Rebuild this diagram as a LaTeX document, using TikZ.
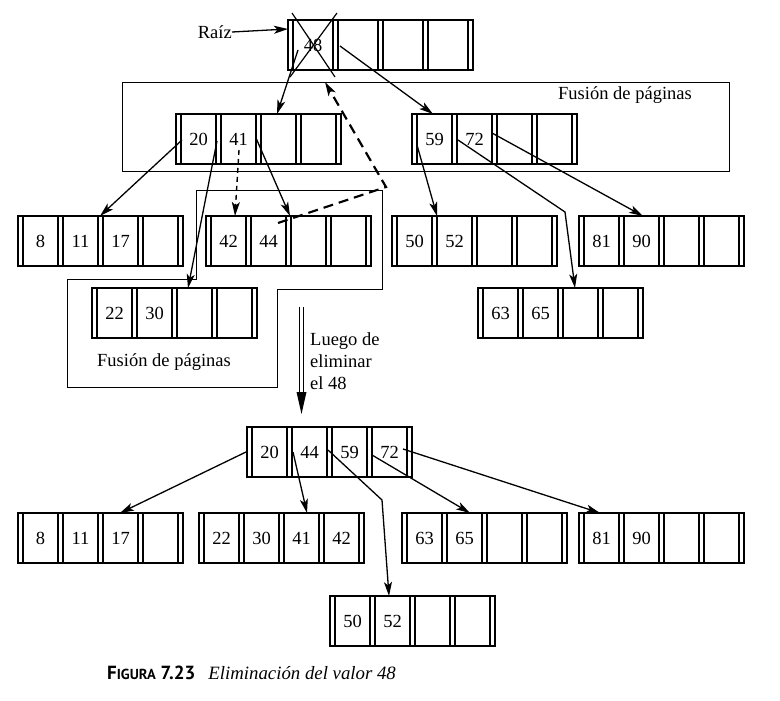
\documentclass[tikz,border=0pt]{standalone}
\usepackage{fontspec}
\setmainfont{Liberation Serif}
\newfontfamily\capsans{PT Sans}
\usetikzlibrary{arrows.meta,calc}

\tikzset{
 pagebox/.style={draw, line width=1.3pt, minimum height=50pt, inner sep=0pt, outer sep=0pt, anchor=north west},
 sepline/.style={line width=1.7pt},
 key/.style={inner sep=0pt, font=\fontsize{18.5}{20}\selectfont},
 link/.style={line width=1.3pt, -{Stealth[length=14pt,width=8pt,inset=3.5pt]}},
 dlink/.style={link, line width=1.4pt, dash pattern=on 5pt off 4pt},
 bigdash/.style={link, line width=2.2pt, dash pattern=on 10pt off 6pt},
 fusion/.style={line width=0.9pt},
 lbl/.style={inner sep=0pt, font=\fontsize{18.5}{22}\selectfont},
}

% #1 pitch, #2 name, #3 top-left, #4..#7 keys
\newcommand\bpagebox[7][40]{%
 \node[pagebox, minimum width={4*#1+5}] (#2) at (#3) {};
 \foreach \k in {0,...,4}{
   \draw[sepline] ($(#2.north west)+({\k*#1},0)$) -- ($(#2.south west)+({\k*#1},0)$);
   \draw[sepline] ($(#2.north west)+({\k*#1+5},0)$) -- ($(#2.south west)+({\k*#1+5},0)$);
 }
 \node[key] (#2-1) at ($(#2.west)+({0*#1+2.5+#1/2},0)$) {#4};
 \node[key] (#2-2) at ($(#2.west)+({1*#1+2.5+#1/2},0)$) {#5};
 \node[key] (#2-3) at ($(#2.west)+({2*#1+2.5+#1/2},0)$) {#6};
 \node[key] (#2-4) at ($(#2.west)+({3*#1+2.5+#1/2},0)$) {#7};
}

\begin{document}
\begin{tikzpicture}[x=1pt,y=-1pt]
\useasboundingbox (0,0) rectangle (780,701);

% fusion regions
\draw[fusion] (122,82) rectangle (729,171);
\node[lbl] (fus1) at (625,95) {Fusión de páginas};
\draw[fusion] (196,190) -- (382,190) -- (382,289) -- (277,289) -- (277,387) -- (67,387) -- (67,279) -- (196,279) -- cycle;
\node[lbl] (fus2) at (164,362) {Fusión de páginas};

% pages, upper tree
\bpagebox[45]{root}{288,20}{48}{}{}{}
\bpagebox{L}{176,114}{20}{41}{}{}
\bpagebox{R}{412,114}{59}{72}{}{}
\bpagebox{A}{18,216}{8}{11}{17}{}
\bpagebox{B}{206,216}{42}{44}{}{}
\bpagebox{C}{92,288}{22}{30}{}{}
\bpagebox{D}{392,216}{50}{52}{}{}
\bpagebox{E}{579,216}{81}{90}{}{}
\bpagebox{F}{478,288}{63}{65}{}{}

% crossed-out root key
\draw[line width=1.2pt] ($(root.north west)+(4,-7)$) -- ($(root.north west)+(47,57)$);
\draw[line width=1.2pt] ($(root.north west)+(49,-7)$) -- ($(root.north west)+(2,57)$);

% Raiz label
\node[lbl, anchor=east] (raiz) at (232,32) {Raíz};
\draw[link] (raiz.east) -- ($(root.north west)+(0,9)$);

% upper links
\draw[link] ($(root.north west)+(10,30)$) -- ($(L.north west)+(101,0)$);
\draw[link] ($(root.north west)+(52,26)$) -- ($(R.north west)+(21,0)$);
\draw[link] ($(L.north west)+(6,26)$) -- ($(A.north west)+(82,0)$);
\draw[link] ($(L.north west)+(41,27)$) -- ($(C.north west)+(96,0)$);
\draw[dlink] ($(L.north west)+(63,36)$) -- ($(B.north west)+(29,0)$);
\draw[link] ($(L.north west)+(80,24)$) -- ($(B.north west)+(84,0)$);
\coordinate (dc) at (386,187);
\coordinate (dt) at (325,82);
\draw[bigdash] ($(B.north west)+(72,7)$) -- (dc) -- (dt);
\draw[link] ($(R.north west)+(5,31)$) -- ($(D.north west)+(45,0)$);
\coordinate (bend1) at (565,212);
\draw[link] ($(R.north west)+(46,26)$) -- (bend1) -- ($(F.north west)+(97,0)$);
\draw[link] ($(R.north west)+(80,19)$) -- ($(E.north west)+(64,0)$);

% transition arrow
\coordinate (dA) at (301.5,307);
\coordinate (dB) at (301.5,414);
\draw[line width=1.1pt] ($(dA)+(-1.8,0)$) -- ($(dB)+(-1.8,-18)$);
\draw[line width=1.1pt] ($(dA)+(1.8,0)$) -- ($(dB)+(1.8,-18)$);
\fill (dB) -- ($(dB)+(-5,-22)$) -- ($(dB)+(5,-22)$) -- cycle;
\node[lbl, anchor=west, align=left] (luego) at (310,361) {Luego de\\eliminar\\el 48};

% lower tree
\bpagebox{N}{247,427}{20}{44}{59}{72}
\bpagebox{A2}{18,513}{8}{11}{17}{}
\bpagebox{B2}{199,513}{22}{30}{41}{42}
\bpagebox{F2}{402,513}{63}{65}{}{}
\bpagebox{E2}{579,513}{81}{90}{}{}
\bpagebox{D2}{330,596}{50}{52}{}{}

\draw[link] ($(N.north west)+(-1,25)$) -- ($(A2.north west)+(102,0)$);
\draw[link] ($(N.north west)+(46,25)$) -- ($(B2.north west)+(108,0)$);
\coordinate (bend2) at (382,500);
\draw[link] ($(N.north west)+(81,23)$) -- (bend2) -- ($(D2.north west)+(59,0)$);
\draw[link] ($(N.north west)+(125,28)$) -- ($(F2.north west)+(68,0)$);
\draw[link] ($(N.north west)+(156,22)$) -- ($(E2.north west)+(21,0)$);

% caption
\node[inner sep=0pt, anchor=base west] (cap) at (107,679)
 {{\capsans\bfseries\fontsize{19}{22}\selectfont F{\fontsize{14.5}{16}\selectfont IGURA} 7.23}\hspace{13pt}{\itshape\fontsize{18.8}{22}\selectfont Eliminación del valor 48}};
\end{tikzpicture}
\end{document}
